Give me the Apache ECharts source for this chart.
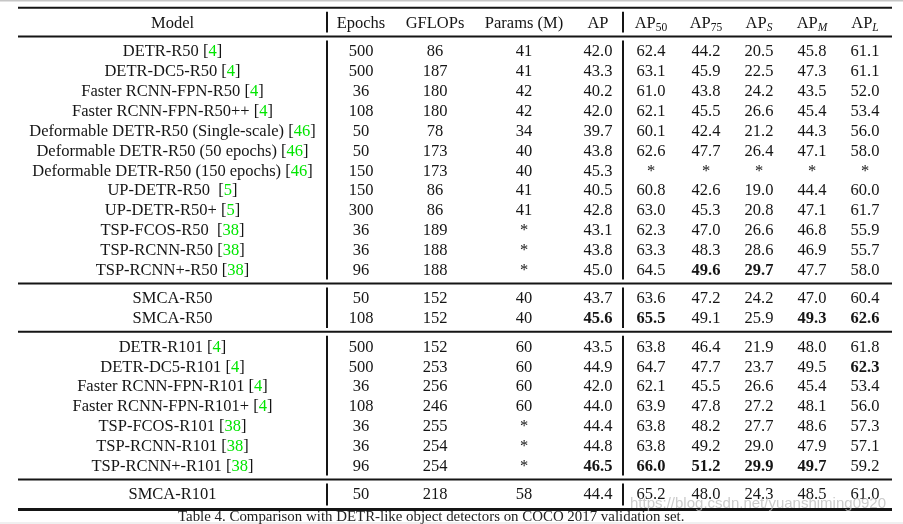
<!DOCTYPE html>
<html><head><meta charset="utf-8">
<script src="https://cdn.jsdelivr.net/npm/echarts@6/dist/echarts.min.js"></script>
<style>html,body{margin:0;padding:0;background:#fff}#c{width:903px;height:524px}</style>
</head><body><div id="c"></div>
<script>
// ---------------- DATA ----------------
const headers = ['Model', 'Epochs', 'GFLOPs', 'Params (M)', 'AP', 'AP{s|50}', 'AP{s|75}', 'AP{si|S}', 'AP{si|M}', 'AP{si|L}'];
const models = [
  'DETR-R50 [4]', 'DETR-DC5-R50 [4]', 'Faster RCNN-FPN-R50 [4]', 'Faster RCNN-FPN-R50++ [4]',
  'Deformable DETR-R50 (Single-scale) [46]', 'Deformable DETR-R50 (50 epochs) [46]',
  'Deformable DETR-R50 (150 epochs) [46]', 'UP-DETR-R50  [5]', 'UP-DETR-R50+ [5]',
  'TSP-FCOS-R50  [38]', 'TSP-RCNN-R50 [38]', 'TSP-RCNN+-R50 [38]',
  'SMCA-R50', 'SMCA-R50',
  'DETR-R101 [4]', 'DETR-DC5-R101 [4]', 'Faster RCNN-FPN-R101 [4]', 'Faster RCNN-FPN-R101+ [4]',
  'TSP-FCOS-R101 [38]', 'TSP-RCNN-R101 [38]', 'TSP-RCNN+-R101 [38]',
  'SMCA-R101'
];
const groupSizes = [12, 2, 7, 1];
const epochs = [500, 500, 36, 108, 50, 50, 150, 150, 300, 36, 36, 96, 50, 108, 500, 500, 36, 108, 36, 36, 96, 50];
const gflops = [86, 187, 180, 180, 78, 173, 173, 86, 86, 189, 188, 188, 152, 152, 152, 253, 256, 246, 255, 254, 254, 218];
const params = [41, 41, 42, 42, 34, 40, 40, 41, 41, null, null, null, 40, 40, 60, 60, 60, 60, null, null, null, 58];
const ap   = [42.0, 43.3, 40.2, 42.0, 39.7, 43.8, 45.3, 40.5, 42.8, 43.1, 43.8, 45.0, 43.7, 45.6, 43.5, 44.9, 42.0, 44.0, 44.4, 44.8, 46.5, 44.4];
const ap50 = [62.4, 63.1, 61.0, 62.1, 60.1, 62.6, null, 60.8, 63.0, 62.3, 63.3, 64.5, 63.6, 65.5, 63.8, 64.7, 62.1, 63.9, 63.8, 63.8, 66.0, 65.2];
const ap75 = [44.2, 45.9, 43.8, 45.5, 42.4, 47.7, null, 42.6, 45.3, 47.0, 48.3, 49.6, 47.2, 49.1, 46.4, 47.7, 45.5, 47.8, 48.2, 49.2, 51.2, 48.0];
const apS  = [20.5, 22.5, 24.2, 26.6, 21.2, 26.4, null, 19.0, 20.8, 26.6, 28.6, 29.7, 24.2, 25.9, 21.9, 23.7, 26.6, 27.2, 27.7, 29.0, 29.9, 24.3];
const apM  = [45.8, 47.3, 43.5, 45.4, 44.3, 47.1, null, 44.4, 47.1, 46.8, 46.9, 47.7, 47.0, 49.3, 48.0, 49.5, 45.4, 48.1, 48.6, 47.9, 49.7, 48.5];
const apL  = [61.1, 61.1, 52.0, 53.4, 56.0, 58.0, null, 60.0, 61.7, 55.9, 55.7, 58.0, 60.4, 62.6, 61.8, 62.3, 53.4, 56.0, 57.3, 57.1, 59.2, 61.0];
// [row, column] of best results printed in bold
const boldCells = [[11, 6], [11, 7], [13, 4], [13, 5], [13, 8], [13, 9], [15, 9], [20, 4], [20, 5], [20, 6], [20, 7], [20, 8]];
const caption = 'Table 4. Comparison with DETR-like object detectors on COCO 2017 validation set.';
const watermark = 'https://blog.csdn.net/yuanshiming0920';

// ---------------- LAYOUT / STYLE ----------------
const FONT = "'Liberation Serif', 'Times New Roman', serif";
const TEXT_COLOR = '#151515';
const CITE_COLOR = '#00e600';
const GRID_LEFT = 18, GRID_RIGHT = 11, GRID_TOP = 7.7;
const X_MAX = 874;
const COL_X = [154.5, 343, 417, 506, 580, 633, 688, 741, 794, 847];
const VLINE_X = [309, 605];
const ROW_H = 19.85;
const PAD_TOP = 0.73, GAP = 1.44, PAD_BOTTOM = 0.79, VGAP = 0.2;
const TEXT_DY = 1.3;

// row positions (in row units)
const headerY = PAD_TOP;
const rowY = [];
const blocks = [[0, headerY, headerY]];
let y = headerY;
groupSizes.forEach(n => {
  y += GAP;
  const first = y;
  for (let i = 0; i < n; i++) { if (i > 0) y += 1; rowY.push(y); }
  blocks.push([null, first, y]);
});
const Y_MAX = y + PAD_BOTTOM;
const hRules = [[0, 2]];
for (let b = 0; b < blocks.length - 1; b++) hRules.push([blocks[b][2] + GAP / 2, 2]);
hRules.push([Y_MAX, 3.2]);
const vSegs = [];
for (let b = 0; b < blocks.length; b++) {
  const top = hRules[b][0] + VGAP, bot = hRules[b + 1][0] - VGAP;
  VLINE_X.forEach(x => vSegs.push([x, top, bot]));
}

const columns = [models, epochs, gflops, params, ap, ap50, ap75, apS, apM, apL];
function isBold(r, c) { return boldCells.some(b => b[0] === r && b[1] === c); }
function cellText(r, c) {
  const v = columns[c][r];
  if (c === 0) return v.replace(/\[(\d+)\]/, '[{g|$1}]');
  if (v == null) return '*';
  return c <= 3 ? String(v) : v.toFixed(1);
}

const RICH = {
  g: { fill: CITE_COLOR },
  s: { fontFamily: FONT, fontSize: 11.5, lineHeight: 10.5, verticalAlign: 'bottom', fill: TEXT_COLOR },
  si: { fontFamily: FONT, fontSize: 11.5, fontStyle: 'italic', lineHeight: 10.5, verticalAlign: 'bottom', fill: TEXT_COLOR }
};

const textData = [];
headers.forEach((h, c) => textData.push([COL_X[c], headerY, -1, c]));
rowY.forEach((ry, r) => columns.forEach((col, c) => textData.push([COL_X[c], ry, r, c])));

const chart = echarts.init(document.getElementById('c'));
chart.setOption({
  animation: false,
  backgroundColor: '#fff',
  title: {
    text: caption, left: 178, top: 509.5, padding: 0,
    textStyle: { fontFamily: FONT, fontSize: 14.9, fontWeight: 'normal', color: '#222' }
  },
  grid: { left: GRID_LEFT, right: GRID_RIGHT, top: GRID_TOP, height: Y_MAX * ROW_H, containLabel: false },
  xAxis: { type: 'value', min: 0, max: X_MAX, show: false },
  yAxis: { type: 'value', min: 0, max: Y_MAX, inverse: true, show: false },
  graphic: [
    { type: 'rect', left: 0, top: 0, shape: { width: 903, height: 1.4 }, style: { fill: '#c6c6c6' }, silent: true },
    { type: 'rect', left: 0, top: 522, shape: { width: 903, height: 2 }, style: { fill: '#f0f0f0' }, silent: true },
    { type: 'text', left: 630, top: 496, z: 100, silent: true,
      style: { text: watermark, font: "15px 'Liberation Sans'", fill: 'rgba(185,185,185,0.75)' } }
  ],
  series: [
    {
      type: 'custom', silent: true,
      data: hRules,
      renderItem: (params, api) => {
        const yv = api.value(0);
        const p1 = api.coord([0, yv]), p2 = api.coord([X_MAX, yv]);
        return { type: 'line', shape: { x1: p1[0], y1: p1[1], x2: p2[0], y2: p2[1] },
          style: { stroke: '#151515', lineWidth: api.value(1) } };
      }
    },
    {
      type: 'custom', silent: true,
      data: vSegs,
      renderItem: (params, api) => {
        const p1 = api.coord([api.value(0), api.value(1)]), p2 = api.coord([api.value(0), api.value(2)]);
        return { type: 'line', shape: { x1: p1[0], y1: p1[1], x2: p2[0], y2: p2[1] },
          style: { stroke: '#151515', lineWidth: 2 } };
      }
    },
    {
      type: 'custom', silent: true,
      data: textData,
      renderItem: (params, api) => {
        const r = api.value(2), c = api.value(3);
        const p = api.coord([api.value(0), api.value(1)]);
        const header = r < 0;
        const txt = header ? headers[c] : cellText(r, c);
        const bold = !header && isBold(r, c);
        return {
          type: 'text', x: p[0], y: p[1] + TEXT_DY,
          style: {
            legacy: false, text: txt, rich: RICH, fill: TEXT_COLOR,
            fontFamily: FONT, fontSize: 16.5, fontWeight: bold ? 'bold' : 'normal',
            align: 'center', verticalAlign: 'middle', lineHeight: 20
          }
        };
      }
    }
  ]
});
</script></body></html>
